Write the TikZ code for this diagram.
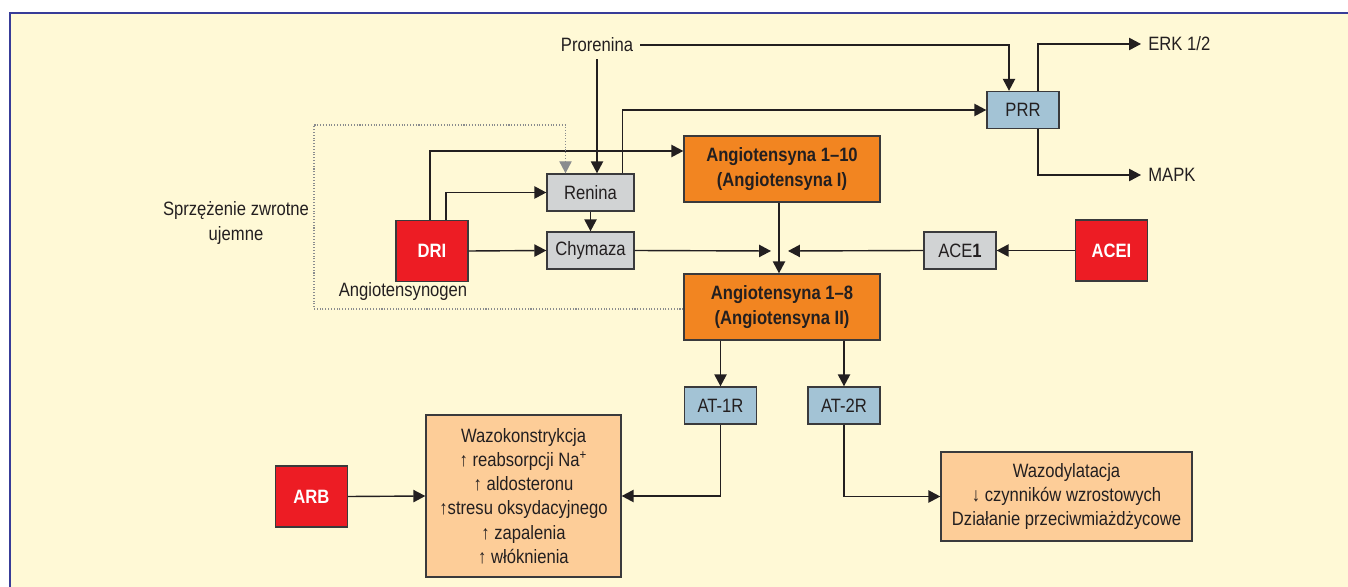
\documentclass[tikz,border=0pt]{standalone}
\usepackage{fontspec}
\setmainfont[FakeStretch=0.86]{Liberation Sans}
\usetikzlibrary{arrows.meta, calc}

\definecolor{bgyellow}{HTML}{FFF9D6}
\definecolor{frameblue}{HTML}{383C98}
\definecolor{boxline}{HTML}{3A3A3C}
\definecolor{inkdark}{HTML}{231F20}
\definecolor{boxgray}{HTML}{D1D3D4}
\definecolor{boxblue}{HTML}{A3C3D5}
\definecolor{boxorange}{HTML}{F28521}
\definecolor{boxred}{HTML}{ED1C24}
\definecolor{boxpeach}{HTML}{FDCD98}
\definecolor{fbgray}{HTML}{8A8C8E}

\begin{document}
\begin{tikzpicture}[x=0.02cm, y=-0.02cm,
  font=\fontsize{11}{13.8}\selectfont,
  box/.style={draw=boxline, line width=0.8pt, inner sep=2pt, align=center, text=inkdark},
  graybox/.style={box, fill=boxgray, minimum width=1.74cm, minimum height=0.74cm},
  bluebox/.style={box, fill=boxblue, minimum width=1.44cm, minimum height=0.74cm},
  angbox/.style={box, fill=boxorange, font=\fontsize{11}{13.8}\selectfont\bfseries,
    minimum width=3.92cm, minimum height=1.32cm},
  drugbox/.style={box, fill=boxred, text=white, font=\fontsize{11}{13.8}\selectfont\bfseries,
    minimum width=1.44cm, minimum height=1.22cm},
  effbox/.style={box, fill=boxpeach},
  lbl/.style={inner sep=4pt, text=inkdark, align=center},
  arr/.style={-{Triangle[length=6.8pt,width=7pt]}, line width=0.8pt, draw=inkdark},
  fdbk/.style={-{Triangle[length=6.8pt,width=7pt]}, densely dotted, line width=0.6pt, draw=fbgray},
]
  % Page and frame
  \useasboundingbox (0,0) rectangle (1348,587);
  \fill[white] (0,0) rectangle (1348,587);
  \fill[bgyellow] (10,13) rectangle (1348,587);
  \draw[frameblue, line width=1.7pt] (10,587) -- (10,13) -- (1348,13);

  % Upper row: prorenin and its receptor
  \node[lbl] (pro) at (597,45) {Prorenina};
  \node[bluebox] (prr) at (1023,110) {PRR};
  \node[lbl, anchor=west] (erk) at (1141,44) {ERK 1/2};
  \node[lbl, anchor=west] (mapk) at (1141,175) {MAPK};

  % Enzymes
  \node[graybox] (renina) at (590.5,192.5) {Renina};
  \node[graybox] (chym) at (590.5,250.5) {Chymaza};
  \node[graybox, minimum width=1.44cm] (ace) at (960,250.5) {ACE\textbf{1}};

  % Angiotensins
  \node[angbox] (ang1) at (782,169) {Angiotensyna 1--10\\(Angiotensyna I)};
  \node[angbox] (ang8) at (782,307) {Angiotensyna 1--8\\(Angiotensyna II)};

  % Inhibitors
  \node[drugbox] (dri) at (432,251) {DRI};
  \node[drugbox] (acei) at (1111.5,250.5) {ACEI};
  \node[drugbox] (arb) at (311.5,496.5) {ARB};

  % Free labels
  \node[lbl] (agt) at (403,292) {Angiotensynogen};
  \node[lbl] (fb) at (236,223) {Sprzężenie zwrotne\\ujemne};

  % Receptors
  \node[bluebox] (at1) at (720.5,405.5) {AT-1R};
  \node[bluebox] (at2) at (844,405.5) {AT-2R};

  % Effects
  \node[effbox, minimum width=3.9cm, minimum height=3.24cm] (vaso) at (523.5,496)
    {Wazokonstrykcja\\↑ reabsorpcji Na\textsuperscript{+}\\↑ aldosteronu\\↑stresu oksydacyjnego\\↑ zapalenia\\↑ włóknienia};
  \node[effbox, minimum width=5.02cm, minimum height=1.78cm] (dil) at (1066.5,496.5)
    {Wazodylatacja\\↓ czynników wzrostowych\\Działanie przeciwmiażdżycowe};

  % Junction on the Ang I -> Ang II line
  \coordinate (jn) at (779,251);
  \coordinate (fbc) at (314,125);

  % Prorenin connections
  \draw[arr] (pro.east) -| ($(prr.north)+(-14,0)$);
  \draw[arr] (pro.south) -- (pro.south |- renina.north);
  \draw[arr] ($(renina.north)+(32,0)$) |- (prr.west);
  \draw[arr] ($(prr.north)+(15,0)$) |- (erk.west);
  \draw[arr] ($(prr.south)+(15,0)$) |- (mapk.west);

  % From DRI / angiotensinogen
  \draw[arr] ($(dri.north)+(-2,0)$) |- ($(ang1.west)+(0,-18)$);
  \draw[arr] ($(dri.north)+(14,0)$) |- (renina.west);
  \draw[arr] (dri.east) -- (chym.west);
  \draw[arr] (renina.south) -- (chym.north);

  % Conversion to Ang II
  \draw[arr] (ang1.south -| jn) -- (ang8.north -| jn);
  \draw[arr] (chym.east) -- ($(jn)+(-8,0)$);
  \draw[arr] (ace.west) -- ($(jn)+(9,0)$);
  \draw[arr] (acei.west) -- (ace.east);

  % Negative feedback (dotted)
  \draw[fdbk] ($(ang8.west)+(0,2)$) -| (fbc) -| ($(renina.north)+(-25,0)$);

  % Receptors and effects
  \draw[arr] (at1.north |- ang8.south) -- (at1.north);
  \draw[arr] (at2.north |- ang8.south) -- (at2.north);
  \draw[arr] (at1.south) |- (vaso.east);
  \draw[arr] (arb.east) -- (vaso.west);
  \draw[arr] (at2.south) |- (dil.west);
\end{tikzpicture}
\end{document}
